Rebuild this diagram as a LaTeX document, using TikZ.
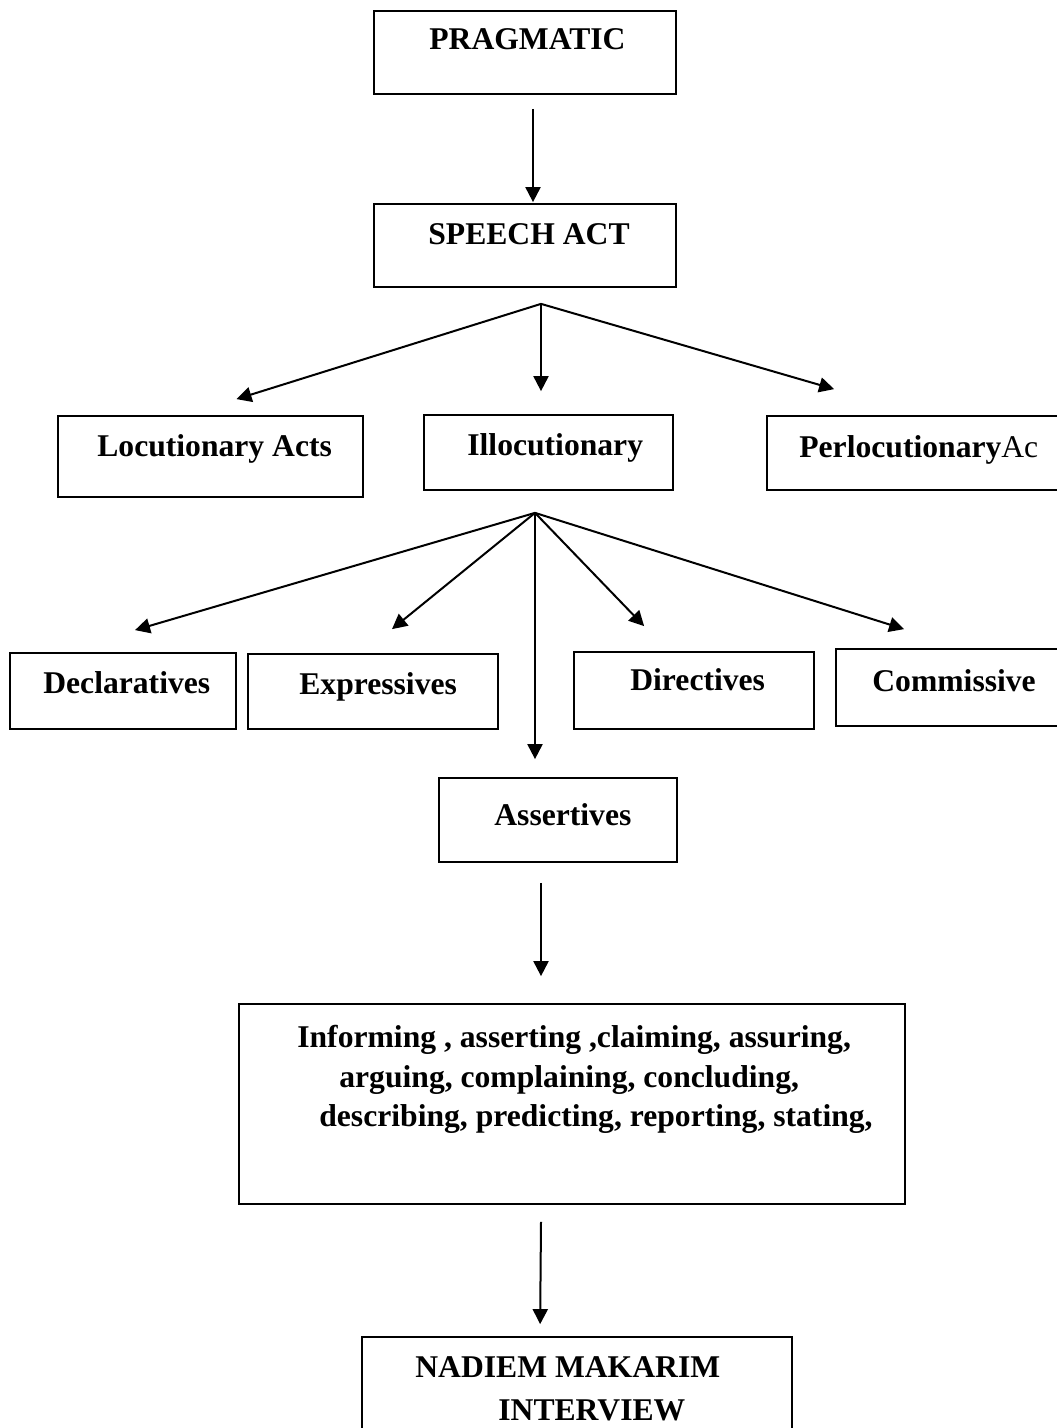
\documentclass[tikz,border=0pt]{standalone}
\usepackage{fontspec}
\setmainfont{Liberation Serif}
\usetikzlibrary{arrows.meta,fit,calc}
\tikzset{
  box/.style={draw, line width=0.35mm, inner sep=0pt, fit={#1}},
  lbl/.style={anchor=base west, inner sep=0pt, font=\fontsize{18}{21}\selectfont\bfseries},
  arr/.style={line width=0.4mm, -{Triangle[length=3mm,width=3mm]}}
}
\begin{document}
\begin{tikzpicture}[x=0.2mm,y=-0.2mm]
    \useasboundingbox (0,0) rectangle (1057,1428);
    % boxes
    \node[box={(374,11) (676,94)}] (prag) {};
    \node[box={(374,204) (676,287)}] (speech) {};
    \node[box={(58,416) (363,497)}] (loc) {};
    \node[box={(424,415) (673,490)}] (illo) {};
    \node[box={(767,416) (1070,490)}] (perl) {};
    \node[box={(10,653) (236,729)}] (decl) {};
    \node[box={(248,654) (498,729)}] (expr) {};
    \node[box={(574,652) (814,729)}] (dire) {};
    \node[box={(836,649) (1070,726)}] (comm) {};
    \node[box={(439,778) (677,862)}] (asse) {};
    \node[box={(239,1004) (905,1204)}] (info) {};
    \node[box={(362,1337) (792,1460)}] (nadiem) {};
    % texts
    \node[lbl] (tprag) at (429,50) {PRAGMATIC};
    \node[lbl] (tspeech) at (428,245) {SPEECH ACT};
    \node[lbl] (tloc) at (97,456) {Locutionary Acts};
    \node[lbl] (tillo) at (467,455) {Illocutionary};
    \node[lbl] (tperl) at (799,457) {Perlocutionary\mdseries Ac};
    \node[lbl] (tdecl) at (43,693) {Declaratives};
    \node[lbl] (texpr) at (299,694) {Expressives};
    \node[lbl] (tdire) at (630,690) {Directives};
    \node[lbl] (tcomm) at (872,691) {Commissive};
    \node[lbl] (tasse) at (494,825) {Assertives};
    \node[lbl] (tinfo1) at (297,1047) {Informing , asserting ,claiming, assuring,};
    \node[lbl] (tinfo2) at (339,1087) {arguing, complaining, concluding,};
    \node[lbl] (tinfo3) at (319,1126) {describing, predicting, reporting, stating,};
    \node[lbl] (tnad1) at (415,1377) {NADIEM MAKARIM};
    \node[lbl] (tnad2) at (498,1420) {INTERVIEW};
    % hubs
    \coordinate (hubA) at ($(speech.south)+(16,16)$);
    \coordinate (hubB) at ($(illo.south)+(-13.5,22)$);
    % arrows
    \draw[arr] ($(prag.south)+(8,14)$) -- ($(speech.north)+(8,-1)$);
    \draw[arr] (hubA) -- ($(loc.north)+(26,-16)$);
    \draw[arr] (hubA) -- ($(illo.north)+(-7.5,-23)$);
    \draw[arr] (hubA) -- ($(perl.north west)+(68,-26)$);
    \draw[arr] (hubB) -- ($(decl.north)+(12,-22)$);
    \draw[arr] (hubB) -- ($(expr.north)+(19,-24)$);
    \draw[arr] (hubB) -- ($(asse.north)+(-23,-18)$);
    \draw[arr] (hubB) -- ($(dire.north west)+(71,-25)$);
    \draw[arr] (hubB) -- ($(comm.north west)+(69,-19)$);
    \draw[arr] ($(asse.south)+(-17,20)$) -- ($(info.north)+(-31,-27)$);
    \draw[arr] ($(info.south)+(-31,17)$) -- ($(nadiem.north west)+(179,-12)$);
\end{tikzpicture}
\end{document}
